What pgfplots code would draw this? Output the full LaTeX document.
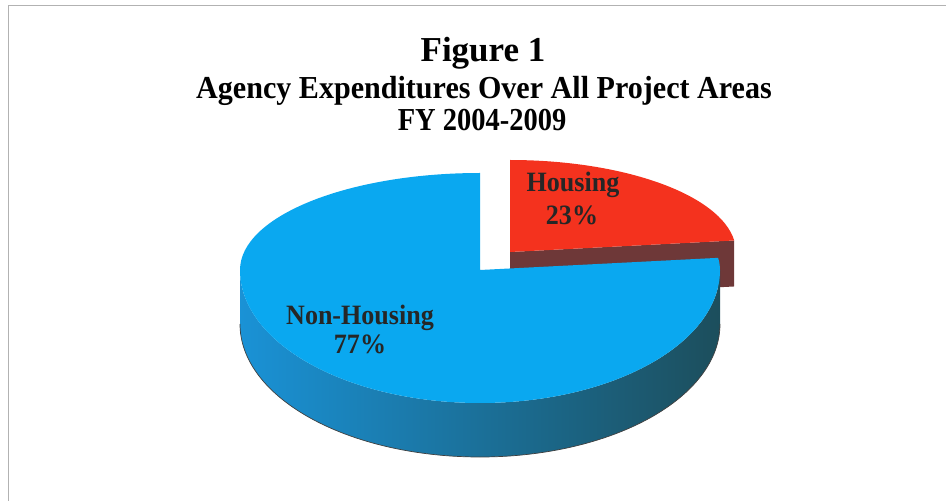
\documentclass[border=0pt]{standalone}
\usepackage{graphicx}
\usepackage{pgfplots}
\usepackage{pgfplotstable}
\pgfplotsset{compat=1.18}
\usepackage{fontspec}
\setmainfont{Liberation Serif}
\definecolor{bluetop}{HTML}{0AA8F0}
\definecolor{sideL}{HTML}{1A92D6}
\definecolor{sideM}{HTML}{1878A8}
\definecolor{sideR}{HTML}{1C4E5C}
\definecolor{redtop}{HTML}{F4321E}
\definecolor{redside}{HTML}{6E3838}
\definecolor{labtxt}{HTML}{262626}
\pgfplotstableread{
label value
Housing 23
Non-Housing 77
}\piedata
\begin{document}
\begin{tikzpicture}
\pgfplotstablegetelem{0}{value}\of\piedata \edef\vH{\pgfplotsretval}
\pgfplotstablegetelem{1}{value}\of\piedata \edef\vN{\pgfplotsretval}
\pgfmathsetmacro\aSplit{90-3.6*\vH}
\pgfmathsetmacro\aBEnd{90+3.6*\vN}
\pgfmathsetmacro\rcx{510+226*cos(\aSplit)}
\pgfmathsetmacro\rcy{249+92*sin(\aSplit)}
\path[use as bounding box] (0,0) rectangle (946pt,501pt);
\begin{axis}[at={(0,0)}, anchor=south west, width=946pt, height=501pt,
  scale only axis, xmin=0, xmax=946, ymin=0, ymax=501, hide axis, clip=false]
% frame
\draw[gray!60, line width=0.8pt] (axis cs:8,0) -- (axis cs:8,496) -- (axis cs:946,496);
% red (Housing) slice, exploded
\fill[redside] (axis cs:510,249) -- (axis cs:\rcx,\rcy) -- ++(0pt,-46pt) -- (axis cs:510,203) -- cycle;
\fill[redtop] (axis cs:510,249) -- (axis cs:\rcx,\rcy)
  arc[start angle=\aSplit, end angle=90, x radius=226pt, y radius=92pt] -- cycle;
% blue (Non-Housing) side
\shade[left color=sideL, middle color=sideM, right color=sideR]
  (axis cs:240,231) arc[start angle=180, end angle=360, x radius=240pt, y radius=133pt]
  -- ++(0pt,-54pt) arc[start angle=360, end angle=180, x radius=240pt, y radius=133pt] -- cycle;
\draw[black!75, line width=0.7pt] (axis cs:240,177) arc[start angle=180, end angle=360, x radius=240pt, y radius=133pt];
% blue top
\fill[bluetop] (axis cs:480,231) -- (axis cs:480,328)
  arc[start angle=90, end angle=180, x radius=240pt, y radius=97pt]
  arc[start angle=180, end angle=360, x radius=240pt, y radius=133pt]
  arc[start angle=360, end angle=\aBEnd, x radius=240pt, y radius=97pt] -- cycle;
% labels
\tikzset{lab/.style={anchor=base, inner sep=0pt, text=labtxt, font=\bfseries\fontsize{28}{30}\selectfont}}
\node[lab] at (axis cs:360,176) {\scalebox{0.93}[1]{Non-Housing}};
\node[lab] at (axis cs:360,147) {\scalebox{0.93}[1]{\vN\%}};
\node[lab] at (axis cs:573,309) {\scalebox{0.93}[1]{Housing}};
\node[lab] at (axis cs:572,276) {\scalebox{0.93}[1]{\vH\%}};
% title
\node[anchor=base, inner sep=0pt, font=\bfseries\fontsize{35}{38}\selectfont] at (axis cs:483,439) {Figure 1};
\node[anchor=base, inner sep=0pt, font=\bfseries\fontsize{32}{34}\selectfont] at (axis cs:484,402) {\scalebox{0.94}[1]{Agency Expenditures Over All Project Areas}};
\node[anchor=base, inner sep=0pt, font=\bfseries\fontsize{32}{34}\selectfont] at (axis cs:482,370) {\scalebox{0.89}[1]{FY 2004-2009}};
\end{axis}
\end{tikzpicture}
\end{document}
